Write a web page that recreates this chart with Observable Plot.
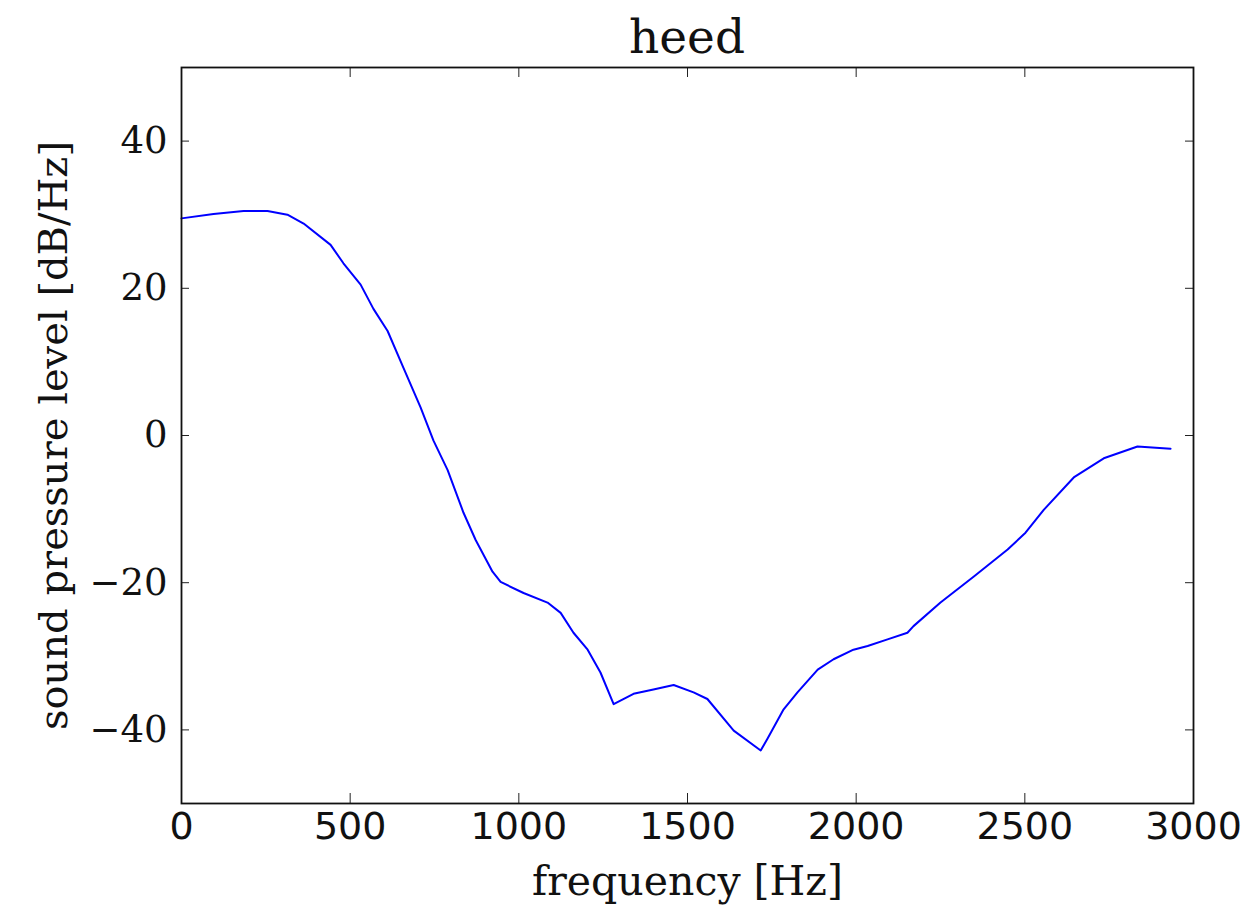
<!DOCTYPE html>
<html>
<head>
<meta charset="utf-8">
<script src="https://cdn.jsdelivr.net/npm/d3@7"></script>
<script src="https://cdn.jsdelivr.net/npm/@observablehq/plot@0.6"></script>
<style>
  html, body { margin: 0; padding: 0; background: #fff; }
  #title { width: 1012px; margin-left: 181px; height: 60px; box-sizing: border-box; padding-top: 13px;
    line-height: 47px; font-family: "DejaVu Serif", serif; font-size: 47px; text-align: center; color: #111; }
  #chart svg { overflow: visible; }
  g[aria-label="x-axis tick label"] text { font-family: "DejaVu Sans", sans-serif; }
  g[aria-label="y-axis tick label"] text { font-family: "DejaVu Serif", serif; }
</style>
</head>
<body>
<div id="title"></div>
<div id="chart"></div>
<script>
const titleText = "heed";
const xLabel = "frequency [Hz]";
const yLabel = "sound pressure level [dB/Hz]";

const freq = [0, 95, 184, 255, 314, 362, 442, 480, 531, 569, 611, 658, 709, 747, 789, 836, 872, 922, 946,
  1014, 1085, 1124, 1162, 1204, 1242, 1281, 1340, 1399, 1459, 1518, 1559, 1637, 1717, 1737, 1785, 1826,
  1886, 1933, 1992, 2034, 2093, 2152, 2170, 2250, 2348, 2449, 2502, 2556, 2645, 2734, 2834, 2932];
const spl = [29.5, 30.1, 30.5, 30.5, 30.0, 28.8, 25.9, 23.4, 20.5, 17.2, 14.2, 9.2, 3.8, -0.7, -4.7, -10.5, -14.2, -18.5, -19.9,
  -21.4, -22.7, -24.1, -26.8, -29.1, -32.2, -36.5, -35.1, -34.5, -33.9, -34.9, -35.8, -40.1, -42.8, -41.2, -37.2, -34.9,
  -31.8, -30.4, -29.1, -28.6, -27.7, -26.8, -25.9, -22.7, -19.2, -15.5, -13.2, -10.1, -5.7, -3.1, -1.5, -1.8];

const xTicks = [0, 500, 1000, 1500, 2000, 2500, 3000];
const xTickLabels = ["0", "500", "1000", "1500", "2000", "2500", "3000"];
const yTicks = [-40, -20, 0, 20, 40];
const yTickLabels = ["−40", "−20", "0", "20", "40"];

const data = freq.map((f, i) => ({f, v: spl[i]}));

document.getElementById("title").textContent = titleText;

const W = 1255, H = 847, mT = 7, mB = 104, mL = 181, mR = 62;
const pw = W - mL - mR, ph = H - mT - mB;

const chart = Plot.plot({
  width: W, height: H,
  marginTop: mT, marginBottom: mB, marginLeft: mL, marginRight: mR,
  style: {background: "#fff", color: "#111", overflow: "visible"},
  x: {domain: [0, 3000]},
  y: {domain: [-50, 50]},
  marks: [
    Plot.line(data, {x: "f", y: "v", stroke: "#0000ff", strokeWidth: 2}),
    // inward ticks on all four sides
    Plot.ruleX(xTicks, {x: d => d, insetBottom: ph - 10, stroke: "#222", strokeWidth: 1}),
    Plot.ruleX(xTicks, {x: d => d, insetTop: ph - 10, stroke: "#222", strokeWidth: 1}),
    Plot.ruleY(yTicks, {y: d => d, insetRight: pw - 8, stroke: "#222", strokeWidth: 1}),
    Plot.ruleY(yTicks, {y: d => d, insetLeft: pw - 8, stroke: "#222", strokeWidth: 1}),
    Plot.frame({stroke: "#111", strokeWidth: 1.8}),
    Plot.axisX(xTicks, {anchor: "bottom", tickSize: 0, tickPadding: 9, fontSize: 38,
      tickFormat: (d) => xTickLabels[xTicks.indexOf(d)], label: null}),
    Plot.axisY(yTicks, {anchor: "left", tickSize: 0, tickPadding: 14, fontSize: 37,
      tickFormat: (d) => yTickLabels[yTicks.indexOf(d)], label: null}),
    Plot.text([xLabel], {frameAnchor: "bottom", textAnchor: "middle", lineAnchor: "bottom", dy: 91, fontSize: 41,
      fontFamily: "DejaVu Serif", fill: "#111"}),
    Plot.text([yLabel], {frameAnchor: "left", textAnchor: "middle", rotate: -90, lineAnchor: "bottom", dx: -115, fontSize: 40,
      fontFamily: "DejaVu Serif", fill: "#111"})
  ]
});
document.getElementById("chart").appendChild(chart);
</script>
</body>
</html>
